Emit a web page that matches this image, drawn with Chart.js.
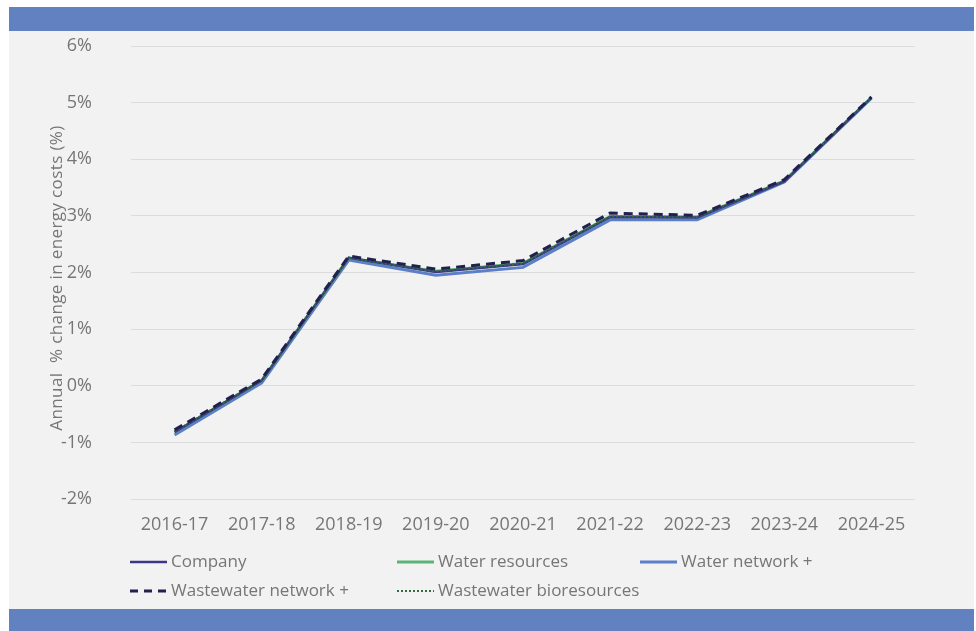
<!DOCTYPE html>
<html>
<head>
<meta charset="utf-8">
<script src="https://cdn.jsdelivr.net/npm/chart.js@4/dist/chart.umd.min.js"></script>
<style>
  html, body { margin: 0; padding: 0; background: #ffffff; }
  body { width: 976px; height: 631px; position: relative; overflow: hidden; }
  #panel { position: absolute; left: 9px; top: 7px; width: 965px; height: 624px; background: #f2f2f2; }
  .band { position: absolute; left: 0; width: 965px; background: #6281c0; }
  #bandTop { top: 0; height: 24px; }
  #bandBottom { top: 602px; height: 22px; }
  #wrap { position: absolute; left: 0; top: 0; width: 965px; height: 624px; }
</style>
</head>
<body>
<div id="panel">
  <div id="wrap"><canvas id="chart"></canvas></div>
  <div class="band" id="bandTop"></div>
  <div class="band" id="bandBottom"></div>
</div>
<script>
// Financial years on the x axis
const years = ['2016-17', '2017-18', '2018-19', '2019-20', '2020-21', '2021-22', '2022-23', '2023-24', '2024-25'];

// Annual % change in energy costs by business area
const company           = [-0.82, 0.09, 2.26, 2.01, 2.15, 2.98, 2.97, 3.61, 5.09];
const waterResources    = [-0.82, 0.09, 2.26, 2.02, 2.16, 2.99, 2.98, 3.62, 5.09];
const waterNetwork      = [-0.87, 0.05, 2.22, 1.95, 2.09, 2.93, 2.93, 3.60, 5.08];
const wastewaterNetwork = [-0.78, 0.12, 2.29, 2.06, 2.21, 3.05, 3.01, 3.64, 5.10];
const bioresources      = [-0.81, 0.10, 2.26, 2.02, 2.16, 2.99, 2.98, 3.62, 5.09];

// Y axis tick values (percent)
const yTicks = [-2, -1, 0, 1, 2, 3, 4, 5, 6];

const yTitle = 'Annual  % change in energy costs (%)';

const FONT = 'Open Sans';
const TEXT = '#767676';

// Rotated y axis title, letter-spaced to its set length
const spacedTitle = {
  id: 'spacedTitle',
  afterDraw(chart) {
    const ctx = chart.ctx;
    const targetLength = 305;
    ctx.save();
    ctx.font = '17px "' + FONT + '"';
    ctx.fillStyle = TEXT;
    const natural = ctx.measureText(yTitle).width;
    const extra = Math.max(0, (targetLength - natural) / (yTitle.length - 1));
    ctx.letterSpacing = extra.toFixed(2) + 'px';
    const w = ctx.measureText(yTitle).width;
    ctx.translate(48, 271);
    ctx.rotate(-Math.PI / 2);
    ctx.textBaseline = 'middle';
    ctx.textAlign = 'left';
    ctx.fillText(yTitle, -w / 2, 0);
    ctx.restore();
  }
};

// Two-row legend with fixed column positions, drawn from the dataset styles
const gridLegend = {
  id: 'gridLegend',
  afterDraw(chart) {
    const ctx = chart.ctx;
    const cols = [121, 388, 631];
    const rows = [555, 584];
    const sample = 37;
    ctx.save();
    ctx.font = '17px "' + FONT + '"';
    ctx.textBaseline = 'middle';
    ctx.fillStyle = TEXT;
    chart.data.datasets.forEach((ds, i) => {
      const x = cols[i % 3];
      const y = rows[Math.floor(i / 3)];
      ctx.beginPath();
      ctx.strokeStyle = ds.borderColor;
      ctx.lineWidth = ds.legendWidth || ds.borderWidth;
      ctx.setLineDash(ds.legendDash || ds.borderDash || []);
      ctx.moveTo(x, y);
      ctx.lineTo(x + sample, y);
      ctx.stroke();
      ctx.setLineDash([]);
      ctx.fillText(ds.label, x + sample + 4, y);
    });
    ctx.restore();
  }
};

new Chart(document.getElementById('chart'), {
  type: 'line',
  data: {
    labels: years,
    datasets: [
      { label: 'Company', data: company, borderColor: '#3d3688', borderWidth: 2.5, order: 2 },
      { label: 'Water resources', data: waterResources, borderColor: '#5db277', borderWidth: 3, order: 3 },
      { label: 'Water network +', data: waterNetwork, borderColor: '#5b7fc8', borderWidth: 3, order: 4 },
      { label: 'Wastewater network +', data: wastewaterNetwork, borderColor: '#22204e', borderWidth: 3,
        borderDash: [9, 6], legendDash: [8, 6], order: 0 },
      { label: 'Wastewater bioresources', data: bioresources, borderColor: '#2f6e3d', borderWidth: 2,
        borderDash: [2, 2], legendDash: [2, 2], order: 1 }
    ].map(d => Object.assign({ pointRadius: 0, pointHoverRadius: 0, fill: false, tension: 0,
                                borderCapStyle: 'butt', borderJoinStyle: 'miter' }, d))
  },
  options: {
    responsive: true,
    maintainAspectRatio: false,
    animation: false,
    layout: { padding: { left: 34, right: 59, top: 39, bottom: 92 } },
    plugins: {
      legend: { display: false },
      tooltip: { enabled: false }
    },
    scales: {
      x: {
        offset: true,
        grid: { display: false, drawTicks: false, offset: true },
        border: { display: false },
        ticks: { color: TEXT, font: { family: FONT, size: 18 }, padding: 15, maxRotation: 0, autoSkip: false },
        afterFit(scale) { scale.height = 40; }
      },
      y: {
        min: -2,
        max: 6,
        afterBuildTicks(scale) { scale.ticks = yTicks.map(v => ({ value: v })); },
        grid: { color: '#dcdcdc', lineWidth: 1, drawTicks: true, tickLength: 37, tickColor: 'rgba(0,0,0,0)' },
        border: { display: false },
        ticks: {
          color: TEXT,
          font: { family: FONT, size: 18 },
          padding: 2,
          callback: v => v + '%'
        },
        afterFit(scale) { scale.width = 88; }
      }
    }
  },
  plugins: [spacedTitle, gridLegend]
});
</script>
</body>
</html>
